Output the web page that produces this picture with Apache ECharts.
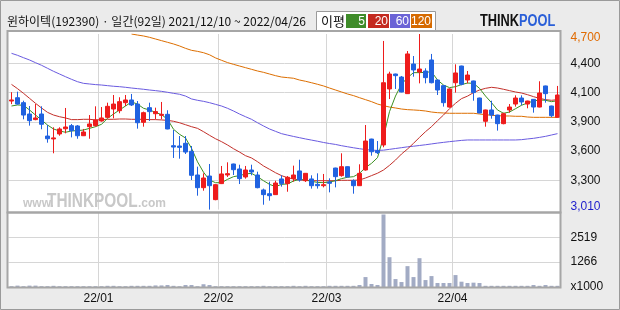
<!DOCTYPE html>
<html><head><meta charset="utf-8">
<script src="https://cdn.jsdelivr.net/npm/echarts@6/dist/echarts.min.js"></script>
<style>html,body{margin:0;padding:0;background:#ebebeb}#c{width:620px;height:310px}</style>
</head><body><div id="c"></div>
<script>
const dates = ['12/10','12/13','12/14','12/15','12/16','12/17','12/20','12/21','12/22','12/23','12/24','12/27','12/28','12/29','12/30',
'01/03','01/04','01/05','01/06','01/07','01/10','01/11','01/12','01/13','01/14','01/17','01/18','01/19','01/20','01/21','01/24','01/25','01/26','01/27','01/28',
'02/03','02/04','02/07','02/08','02/09','02/10','02/11','02/14','02/15','02/16','02/17','02/18','02/21','02/22','02/23','02/24','02/25','02/28',
'03/02','03/03','03/04','03/07','03/08','03/10','03/11','03/14','03/15','03/16','03/17','03/18','03/21','03/22','03/23','03/24','03/25','03/28','03/29','03/30','03/31',
'04/01','04/04','04/05','04/06','04/07','04/08','04/11','04/12','04/13','04/14','04/15','04/18','04/19','04/20','04/21','04/22','04/25','04/26'];

const opens = [4055,4087,4039,3930,3876,3930,3718,3690,3738,3788,3818,3815,3721,3808,3818,3863,3898,3978,3962,4039,4065,4026,3850,3991,3933,3917,3927,3625,3622,3648,3571,3343,3221,3333,3106,3260,3343,3449,3401,3324,3391,3343,3199,3163,3154,3305,3260,3308,3382,3288,3305,3253,3240,3276,3410,3337,3423,3288,3240,3391,3689,3577,3632,4171,4315,4286,4126,4411,4334,4344,4450,4257,4203,3997,4231,4392,4257,4248,4084,3860,3969,3920,3837,3969,4026,4084,4026,4071,3997,4200,4007,3898];
const closes = [4065,4026,3920,3866,3892,3831,3692,3700,3786,3805,3770,3721,3757,3834,3873,3892,4004,4026,4049,4065,4017,3846,3943,3953,3953,3927,3786,3612,3609,3564,3340,3221,3314,3240,3250,3353,3356,3394,3308,3391,3372,3221,3154,3144,3266,3260,3321,3343,3295,3359,3240,3240,3250,3263,3327,3423,3324,3240,3359,3670,3567,3558,4231,4315,4299,4142,4508,4354,4363,4280,4231,4161,4039,4171,4325,4216,4305,4136,3940,3969,3920,3837,3933,3997,4084,4046,4055,3997,4132,4126,3914,4113];
const highs = [4140,4145,4058,4007,4026,4004,3824,3802,3802,3988,3834,3824,3786,3920,4004,3997,4039,4113,4091,4113,4123,4055,3953,4039,3991,4046,3966,3776,3718,3718,3622,3423,3359,3449,3255,3430,3465,3452,3442,3430,3442,3375,3212,3279,3288,3340,3333,3433,3490,3362,3340,3359,3353,3311,3413,3552,3426,3301,3446,3824,3692,3670,4633,4337,4318,4296,4536,4488,4700,4370,4508,4260,4209,4177,4408,4395,4344,4251,4087,3972,4058,3923,3943,4026,4110,4110,4058,4074,4245,4203,4010,4200];
const lows = [4025,4020,3879,3818,3870,3783,3654,3552,3721,3744,3705,3692,3718,3692,3808,3856,3888,3888,3937,4007,4007,3789,3808,3863,3879,3879,3783,3507,3500,3545,3295,3144,3192,3010,3100,3256,3324,3343,3256,3308,3340,3215,3057,3096,3151,3231,3182,3279,3279,3276,3212,3212,3224,3176,3224,3327,3321,3163,3237,3385,3529,3545,3610,4074,4171,4139,4123,4289,4225,4225,4225,4113,4001,3991,4136,4206,4225,4058,3937,3808,3885,3770,3831,3943,4001,4014,3985,3943,3994,4039,3898,3895];

const ma5 = [4007,4017,4014,3969,3920,3873,3824,3786,3767,3754,3767,3770,3776,3792,3808,3831,3888,3930,3969,4007,4046,4026,3985,3969,3946,3924,3879,3783,3735,3699,3600,3470,3370,3295,3269,3269,3301,3327,3337,3353,3359,3327,3288,3253,3231,3253,3257,3285,3301,3295,3282,3272,3269,3276,3288,3308,3321,3327,3359,3415,3455,3510,3710,3953,4103,4216,4280,4328,4328,4331,4337,4257,4209,4184,4193,4213,4228,4225,4177,4103,4039,3969,3937,3949,3981,4014,4036,4055,4065,4062,4049,4058];
const ma20 = [4215,4174,4129,4081,4033,3988,3946,3920,3904,3892,3876,3876,3879,3879,3873,3876,3879,3879,3882,3882,3879,3879,3879,3876,3876,3873,3869,3860,3846,3827,3808,3792,3760,3725,3692,3664,3632,3596,3564,3529,3507,3471,3430,3398,3365,3337,3317,3305,3295,3292,3288,3288,3288,3288,3288,3292,3292,3292,3295,3314,3337,3360,3391,3436,3487,3545,3593,3648,3705,3760,3808,3866,3920,3981,4033,4078,4102,4136,4161,4177,4187,4180,4168,4155,4142,4132,4116,4097,4081,4068,4062,4068];
const ma60 = [4514,4495,4472,4450,4424,4399,4370,4341,4315,4289,4264,4241,4225,4219,4213,4209,4203,4197,4193,4187,4180,4174,4168,4161,4155,4148,4139,4129,4120,4103,4075,4062,4052,4039,4023,4007,3985,3959,3930,3904,3879,3846,3815,3786,3763,3741,3727,3714,3702,3690,3679,3668,3656,3646,3637,3625,3615,3605,3596,3588,3582,3580,3582,3590,3598,3606,3614,3620,3627,3634,3642,3650,3657,3664,3670,3676,3680,3680,3680,3680,3680,3680,3680,3680,3680,3683,3690,3696,3705,3715,3728,3741];
const ma120 = ['-','-','-','-','-','-','-','-','-','-','-','-','-','-','-','-','-','-','-','-',4700,4690,4681,4668,4652,4636,4620,4604,4585,4562,4543,4533,4520,4500,4470,4447,4425,4408,4392,4376,4360,4344,4331,4315,4299,4286,4280,4274,4257,4245,4231,4216,4200,4180,4161,4142,4123,4107,4087,4068,4049,4026,4010,3997,3988,3978,3972,3969,3965,3959,3949,3943,3940,3937,3937,3937,3937,3937,3930,3924,3917,3914,3911,3911,3908,3908,3901,3898,3898,3898,3898,3898];

const volumes = [40,70,40,70,70,40,40,60,40,40,40,40,40,40,40,40,60,60,40,40,60,60,60,60,80,80,100,60,40,100,100,40,140,100,40,40,40,40,40,40,40,40,60,40,40,40,40,60,40,60,40,40,40,60,60,60,60,60,100,504,151,101,3680,1512,403,252,1058,504,1462,353,554,202,202,202,605,269,202,220,202,60,60,60,60,60,60,60,60,100,60,100,60,60];

const priceTickLabels = ['3,010','3,300','3,600','3,900','4,100','4,400','4,700'];
const volTickLabels = ['x1000','1266','2519',''];
const monthTicks = {15:'22/01',35:'22/02',53:'22/03',74:'22/04'};
const maNames = ['5','20','60','120'];
const titleText = '윈하이텍(192390) · 일간(92일) 2021/12/10 ~ 2022/04/26';

const PMIN = 3010, PMAX = 4700, PSTEP = (PMAX - PMIN) / 6;
const VMAX = 3780, VSTEP = 1260;
const UP = '#ee1c1c', DOWN = '#2062e0';
const MA_COLORS = ['#3d9022', '#c3302a', '#6a5be0', '#dc6e00'];
const LEG_COLORS = ['#3f8c2a', '#c42a20', '#6b63d6', '#d66a00'];

const candleData = dates.map((d, i) => [opens[i], closes[i], lows[i], highs[i]]);
const isMonth = (i) => Object.prototype.hasOwnProperty.call(monthTicks, i);

const chart = echarts.init(document.getElementById('c'), null, {renderer: 'canvas'});
const gridLine = {show: true, lineStyle: {color: '#d6d6d6', width: 1}};

const legendGraphics = [];
legendGraphics.push({type:'rect', shape:{x:316.5,y:11.5,width:119,height:19}, style:{fill:'#fff', stroke:'#9a9a9a', lineWidth:1}, z:10, silent:true});
legendGraphics.push({type:'text', x:321, y:21, style:{text:'이평', font:'13px "Noto Sans CJK KR"', fill:'#111', verticalAlign:'middle'}, z:11, silent:true});
const boxX = [346, 368, 390, 411], boxW = [20, 21, 20, 21];
maNames.forEach((n, k) => {
  legendGraphics.push({type:'rect', shape:{x:boxX[k], y:14, width:boxW[k], height:14}, style:{fill:LEG_COLORS[k]}, z:11, silent:true});
  legendGraphics.push({type:'text', x:boxX[k] + boxW[k] - 1, y:21.5, style:{text:n, font:'12px "Liberation Sans"', fill:'#fff', align:'right', verticalAlign:'middle'}, z:12, silent:true});
});

const option = {
  animation: false,
  backgroundColor: '#ebebeb',
  textStyle: {fontFamily: '"Liberation Sans", Arial, sans-serif'},
  grid: [
    {left: 8.5, width: 552, top: 34, height: 175.6},
    {left: 8.5, width: 552, top: 212.5, height: 74.5}
  ],
  xAxis: [
    {type:'category', gridIndex:0, data:dates, boundaryGap:true,
     axisLine:{show:false}, axisTick:{show:false}, axisLabel:{show:false},
     splitLine:{show:true, interval:(i)=>isMonth(i), lineStyle:{color:'#d6d6d6', width:1}}},
    {type:'category', gridIndex:1, data:dates, boundaryGap:true,
     axisLine:{show:false}, axisTick:{show:false},
     axisLabel:{show:true, interval:(i)=>isMonth(i), formatter:(v,i)=>monthTicks[i]||'', color:'#111', fontSize:12, margin:6, padding:[0,6,0,0]},
     splitLine:{show:true, interval:(i)=>isMonth(i), lineStyle:{color:'#d6d6d6', width:1}}}
  ],
  yAxis: [
    {type:'value', gridIndex:0, position:'right', min:PMIN, max:PMAX, interval:PSTEP, scale:true,
     axisLine:{show:false}, axisTick:{show:false},
     splitLine:{show:true, showMinLine:false, showMaxLine:false, lineStyle:{color:'#d6d6d6', width:1}},
     axisLabel:{margin:10, color:'#111', fontSize:12,
       formatter:(v)=>{const k=Math.round((v-PMIN)/PSTEP); const t=priceTickLabels[k]||''; if(k===6) return '{mx|'+t+'}'; if(k===0) return '{mn|'+t+'}'; return t;},
       rich:{mx:{color:'#e06a00', fontSize:12, padding:[8,0,0,0]}, mn:{color:'#1c1ccc', fontSize:12, padding:[0,0,5,0]}}}},
    {type:'value', gridIndex:1, position:'right', min:0, max:VMAX, interval:VSTEP,
     axisLine:{show:false}, axisTick:{show:false},
     splitLine:{show:true, showMinLine:false, showMaxLine:false, lineStyle:{color:'#d6d6d6', width:1}},
     axisLabel:{margin:10, color:'#111', fontSize:12, formatter:(v)=>volTickLabels[Math.round(v/VSTEP)]||''}}
  ],
  series: [
    {name:'MA120', type:'line', xAxisIndex:0, yAxisIndex:0, data:ma120, showSymbol:false, symbol:'none', lineStyle:{color:MA_COLORS[3], width:1}, z:3, silent:true},
    {name:'MA60', type:'line', xAxisIndex:0, yAxisIndex:0, data:ma60, showSymbol:false, symbol:'none', lineStyle:{color:MA_COLORS[2], width:1}, z:3, silent:true},
    {name:'MA20', type:'line', xAxisIndex:0, yAxisIndex:0, data:ma20, showSymbol:false, symbol:'none', lineStyle:{color:MA_COLORS[1], width:1}, z:3, silent:true},
    {name:'MA5', type:'line', xAxisIndex:0, yAxisIndex:0, data:ma5, showSymbol:false, symbol:'none', lineStyle:{color:MA_COLORS[0], width:1}, z:3, silent:true},
    {name:'price', type:'candlestick', xAxisIndex:0, yAxisIndex:0, data:candleData, barWidth:4, z:4, silent:true,
     itemStyle:{color:UP, color0:DOWN, borderColor:UP, borderColor0:DOWN, borderWidth:1}},
    {name:'volume', type:'bar', xAxisIndex:1, yAxisIndex:1, data:volumes, barWidth:4, itemStyle:{color:'#a2abc4'}, z:3, silent:true}
  ],
  graphic: [
    {type:'rect', shape:{x:7.5,y:31,width:553,height:181.5}, style:{fill:'#fff'}, z:-10, silent:true},
    {type:'rect', shape:{x:7.5,y:212.5,width:553,height:75}, style:{fill:'#fff'}, z:-10, silent:true},
    {type:'text', x:23, y:210, style:{text:'www.', font:'bold 12px "Liberation Sans"', fill:'#c8c8c8', verticalAlign:'bottom'}, z:1, silent:true},
    {type:'text', x:47, y:211, scaleX:0.77, style:{text:'THINKPOOL', font:'bold 20px "Liberation Sans"', fill:'#c8c8c8', verticalAlign:'bottom'}, z:1, silent:true},
    {type:'text', x:138, y:210, style:{text:'.com', font:'bold 12px "Liberation Sans"', fill:'#c8c8c8', verticalAlign:'bottom'}, z:1, silent:true},
    {type:'rect', shape:{x:7.5,y:31,width:553,height:181.5}, style:{fill:null, stroke:'#a6a6a6', lineWidth:2}, z:50, silent:true},
    {type:'rect', shape:{x:7.5,y:212.5,width:553,height:75}, style:{fill:null, stroke:'#a6a6a6', lineWidth:2}, z:50, silent:true},
    {type:'rect', shape:{x:0.5,y:0.5,width:619,height:309}, style:{fill:null, stroke:'#9a9a9a', lineWidth:1}, z:50, silent:true},
    {type:'text', x:7, y:21, style:{text:titleText, font:'12px "Noto Sans CJK KR"', fill:'#111', verticalAlign:'middle'}, z:10, silent:true},
    {type:'text', x:480, y:22, scaleX:0.8, style:{text:'THINK', font:'bold 16px "Liberation Sans"', fill:'#111', verticalAlign:'middle'}, z:10, silent:true},
    {type:'text', x:519, y:22, scaleX:0.8, style:{text:'POOL', font:'bold 16px "Liberation Sans"', fill:'#2a5fd8', verticalAlign:'middle'}, z:10, silent:true}
  ].concat(legendGraphics)
};
chart.setOption(option);
</script>
</body></html>
